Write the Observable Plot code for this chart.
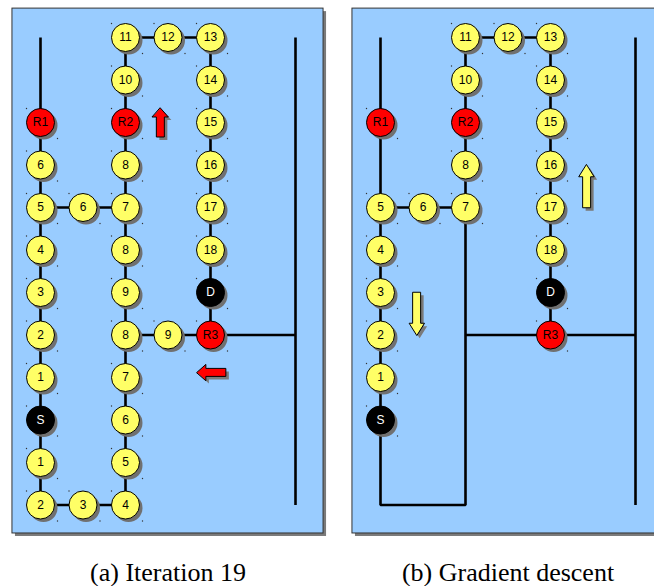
<!DOCTYPE html>
<html>
<head>
<meta charset="utf-8">
<script src="https://cdn.jsdelivr.net/npm/d3@7"></script>
<script src="https://cdn.jsdelivr.net/npm/@observablehq/plot@0.6"></script>
<style>
  html, body { margin: 0; padding: 0; background: #fff; }
</style>
</head>
<body>
<div id="chart"></div>
<script>
// ---------------- data ----------------
const panelIds = ["a", "b"];
const captions = ["(a) Iteration 19", "(b) Gradient descent"];

// node lists: [column, row, label]
const nodesA = [
  [0, 2, "R1"], [0, 3, "6"], [0, 4, "5"], [0, 5, "4"], [0, 6, "3"], [0, 7, "2"],
  [0, 8, "1"], [0, 9, "S"], [0, 10, "1"], [0, 11, "2"],
  [1, 4, "6"], [1, 11, "3"],
  [2, 0, "11"], [2, 1, "10"], [2, 2, "R2"], [2, 3, "8"], [2, 4, "7"], [2, 5, "8"],
  [2, 6, "9"], [2, 7, "8"], [2, 8, "7"], [2, 9, "6"], [2, 10, "5"], [2, 11, "4"],
  [3, 0, "12"], [3, 7, "9"],
  [4, 0, "13"], [4, 1, "14"], [4, 2, "15"], [4, 3, "16"], [4, 4, "17"], [4, 5, "18"],
  [4, 6, "D"], [4, 7, "R3"]
];
const nodesB = [
  [0, 2, "R1"], [0, 4, "5"], [0, 5, "4"], [0, 6, "3"], [0, 7, "2"], [0, 8, "1"], [0, 9, "S"],
  [1, 4, "6"],
  [2, 0, "11"], [2, 1, "10"], [2, 2, "R2"], [2, 3, "8"], [2, 4, "7"],
  [3, 0, "12"],
  [4, 0, "13"], [4, 1, "14"], [4, 2, "15"], [4, 3, "16"], [4, 4, "17"], [4, 5, "18"],
  [4, 6, "D"], [4, 7, "R3"]
];

// wiring (identical in both panels): polylines of [column, row]
const wires = [
  [[0, 0], [0, 11], [2, 11], [2, 0], [4, 0], [4, 7]],
  [[0, 4], [2, 4]],
  [[2, 7], [6, 7]],
  [[6, 0], [6, 11]]
];

// direction arrows: [column, row, direction]
const arrowsA = [[2.82, 2.0, "up"], [4.02, 7.88, "left"]];
const arrowsB = [[4.85, 3.5, "up"], [0.85, 6.5, "down"]];

// ---------------- layout / style ----------------
const W = 654, H = 586;
const STEP = 42.5, X0 = 40, Y0 = 37;       // pixels per grid unit, origin of grid
const panelShift = {a: 0, b: 8};           // panel b sits 8 grid columns right
const panelBox = {x1: -0.66, x2: 6.66, y1: -0.68, y2: 11.67};
const arrowStyle = {
  a: {len: 29, shaft: 8, head: 16, headLen: 9, fill: "#ff0000"},
  b: {len: 43, shaft: 8, head: 15, headLen: 12, fill: "#ffff66"}
};
const R = 14;
const nodeColor = l => l.startsWith("R") ? "#ff0000" : (l === "S" || l === "D") ? "#000000" : "#ffff66";
const textColor = l => (l === "S" || l === "D") ? "#ffffff" : "#000000";

const nodes = [
  ...nodesA.map(([c, r, l]) => ({panel: "a", x: c + panelShift.a, y: r, label: l})),
  ...nodesB.map(([c, r, l]) => ({panel: "b", x: c + panelShift.b, y: r, label: l}))
];

const wirePts = [];
panelIds.forEach(p => wires.forEach((w, i) => w.forEach(([c, r]) =>
  wirePts.push({id: p + i, x: c + panelShift[p], y: r}))));

const panels = panelIds.map(p => ({
  x1: panelBox.x1 + panelShift[p], x2: panelBox.x2 + panelShift[p] + (p === "b" ? 1 : 0),
  y1: panelBox.y1, y2: panelBox.y2
}));

// block arrow polygons (in grid units), built from arrow data + style
function arrowPoly(cx, cy, dir, s, id) {
  const u = 1 / STEP;
  const L = s.len * u, hw = s.head / 2 * u, sw = s.shaft / 2 * u, hl = s.headLen * u;
  const local = [
    [L / 2, 0], [L / 2 - hl, hw], [L / 2 - hl, sw], [-L / 2, sw],
    [-L / 2, -sw], [L / 2 - hl, -sw], [L / 2 - hl, -hw]
  ];
  const dirs = {up: [0, -1], down: [0, 1], left: [-1, 0], right: [1, 0]};
  const [tx, ty] = dirs[dir];
  const nx = -ty, ny = tx;
  return local.map(([t, n]) => ({id, x: cx + t * tx + n * nx, y: cy + t * ty + n * ny}));
}
const arrowPolys = {a: [], b: []};
[["a", arrowsA], ["b", arrowsB]].forEach(([p, arr]) => arr.forEach(([c, r, d], i) =>
  arrowPolys[p].push(...arrowPoly(c + panelShift[p], r, d, arrowStyle[p], p + i))));

const captionData = captions.map((t, i) => ({text: t, x: 3 + panelShift[panelIds[i]], y: 12.78}));

const chart = Plot.plot({
  width: W,
  height: H,
  margin: 0,
  x: {domain: [-X0 / STEP, (W - X0) / STEP], range: [0, W], axis: null},
  y: {domain: [-Y0 / STEP, (H - Y0) / STEP], range: [0, H], axis: null},
  style: {background: "#ffffff"},
  marks: [
    // panel shadow and panel
    Plot.rect(panels, {x1: "x1", x2: "x2", y1: "y1", y2: "y2", fill: "#7a7a7a", dx: 3, dy: 3}),
    Plot.rect(panels, {x1: "x1", x2: "x2", y1: "y1", y2: "y2", fill: "#99ccff", stroke: "#333333", strokeWidth: 1}),
    // wires
    Plot.line(wirePts, {x: "x", y: "y", z: "id", stroke: "#000000", strokeWidth: 2.6,
      strokeLinejoin: "miter", strokeLinecap: "butt"}),
    // arrows (shadow + body)
    ...panelIds.flatMap(p => [
      Plot.line(arrowPolys[p], {x: "x", y: "y", z: "id", curve: "linear-closed",
        fill: "#7a7a7a", stroke: "none", dx: 3, dy: 3}),
      Plot.line(arrowPolys[p], {x: "x", y: "y", z: "id", curve: "linear-closed",
        fill: arrowStyle[p].fill, stroke: "#000000", strokeWidth: 1, strokeLinejoin: "miter"})
    ]),
    // faint selection specks around nodes
    Plot.dot(nodes, {x: "x", y: "y", r: 0.7, fill: "#333333", stroke: "none", dx: -R, dy: -R}),
    Plot.dot(nodes, {x: "x", y: "y", r: 0.7, fill: "#333333", stroke: "none", dx: R + 3, dy: R + 2}),
    // node shadows and nodes
    Plot.dot(nodes, {x: "x", y: "y", r: R, fill: "#707070", stroke: "none", dx: 3, dy: 3}),
    Plot.dot(nodes, {x: "x", y: "y", r: R, fill: d => nodeColor(d.label), stroke: "#000000", strokeWidth: 1}),
    Plot.text(nodes, {x: "x", y: "y", text: "label", fill: d => textColor(d.label),
      fontFamily: "Liberation Sans, Arial, sans-serif", fontSize: 12}),
    // captions
    Plot.text(captionData, {x: "x", y: "y", text: "text", lineAnchor: "bottom",
      fontFamily: "Liberation Serif, Times New Roman, serif", fontSize: 26, fill: "#000000"})
  ]
});
document.getElementById("chart").appendChild(chart);
</script>
</body>
</html>
